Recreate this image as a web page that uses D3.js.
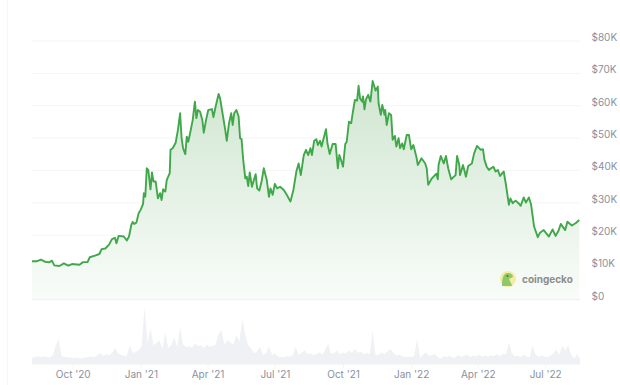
<!DOCTYPE html>
<html>
<head>
<meta charset="utf-8">
<script src="https://cdn.jsdelivr.net/npm/d3@7"></script>
<style>
  html, body { margin: 0; padding: 0; background: #fff; }
  text { font-family: Inter, "Noto Sans", sans-serif; }
</style>
</head>
<body>
<div class="canvas"></div>
<script>
const width = 620;
const height = 385;

// days since the first sample, price in thousands of USD
const priceDays = [0,6,12,18,23,27,30,37,43,49,54,64,69,75,78,85,91,94,99,104,108,112,114,117,124,128,131,134,136,138,141,144,147,150,151,153,155,157,160,162,164,167,170,173,175,177,180,182,186,187,190,194,197,200,202,204,207,209,211,213,217,220,222,224,227,230,232,235,238,243,245,248,252,254,258,261,263,266,269,271,273,276,279,281,283,285,288,290,292,294,297,302,304,307,310,313,317,320,322,325,328,331,335,340,344,349,353,357,360,363,367,370,373,376,378,381,384,386,389,391,397,399,402,406,410,413,415,417,420,423,425,428,431,433,436,439,441,443,446,447,449,451,454,457,460,462,464,467,468,471,473,476,477,479,482,485,487,490,492,495,497,500,502,506,509,512,515,519,521,526,531,533,535,540,546,548,549,552,556,559,562,566,572,574,577,578,582,586,589,594,597,601,606,609,611,614,617,620,623,626,629,632,635,637,640,644,646,649,653,657,660,664,667,671,674,678,683,686,691,698,703,707,711,714,720,723,729,734,739];
const prices = [11.75,11.75,12.26,11.6,11.4,11.95,10.5,10.3,11.1,10.4,10.9,10.7,11.5,11.5,13,13.5,14,15.5,15.7,16.9,18.6,19,17.3,19.6,19.4,18.2,19.4,22.9,23.9,23.3,23.7,26.6,27.8,29.5,32.8,31.7,40.5,40,34,39.2,36.4,36.4,31.2,32.8,30.7,34,33.3,36.9,39,46.2,46.7,48.4,52.3,57.5,49.8,46.7,44.9,50.3,48.7,50.8,55.4,61.1,56,58.5,58,55.4,51.5,55.4,58.5,58.8,56.3,59.6,63.5,62.1,56.5,52.3,49,54.4,57.5,53.9,57.5,58.5,56.5,49.8,49.5,43.6,37.4,37.9,35,39.2,34.8,38.7,34.3,33.6,36.4,40.5,36.9,31.7,34.3,32.3,35.7,34.3,34.8,33.8,32.3,30.2,33.8,39.5,42,38.4,44.6,46.2,44.6,46.7,44.6,49,49.5,47.7,49,47.2,52.6,48.2,44.9,48,48,40.5,44.6,43.3,41,48,48.7,54.9,54.4,57.5,61.6,61.4,66,62.1,61.1,62.7,58.7,61.8,63.2,61.1,67.5,66,64.5,65.75,60.6,57,60.1,57,58.5,53.9,57.5,57,49.3,50.5,47.2,49.8,46.7,48.2,46.4,50.8,50.8,46.4,47.7,44.1,41.5,43.6,42,40.5,35.4,37.4,38.8,37.1,41.5,44.3,42,44.3,40.5,37.1,38.4,44.3,41.5,38.4,41.5,37.9,41.2,42,45.1,47.4,46.2,46.4,43.1,41,40,40.5,41,39.5,40,38.1,39,39.5,35.4,29.2,31.2,29.7,30.5,29.7,28.9,31.5,29.9,31.5,29.2,22.5,19.2,20.6,21.4,19.4,21.6,19.6,21.2,23.3,21.4,24,22.8,23.5,24.5];

// volume in billions of USD, one reading every 4 days
const volumeStep = 4;
const volumes = [
  40,46,50,44,48,46,42,58,112,152,
  50,46,44,42,38,40,36,38,42,46,
  50,44,56,70,52,62,56,70,100,70,
  58,54,50,116,70,76,86,110,350,130,
  220,116,130,146,96,192,100,116,166,106,
  226,120,106,110,100,130,112,116,98,122,
  106,112,120,186,206,116,150,130,120,176,
  140,276,180,116,96,66,80,106,60,66,
  112,58,66,50,46,44,52,48,56,106,
  60,70,86,64,66,58,64,72,60,90,
  124,64,70,84,60,74,66,84,70,94,
  70,78,64,70,60,204,54,60,72,64,
  80,94,70,54,60,50,44,48,46,52,
  154,40,60,74,50,58,64,44,34,50,
  44,54,40,44,58,46,54,60,44,54,
  50,60,46,54,48,56,50,64,48,66,
  60,134,70,50,54,44,60,48,44,114,
  60,44,54,50,44,54,66,90,60,114,
  84,114,60,34,64,34
];

const yTicks = [0,10,20,30,40,50,60,70,80];
const xTickDates = ['2020-10-01','2021-01-01','2021-04-01','2021-07-01','2021-10-01','2022-01-01','2022-04-01','2022-07-01'];

const startDate = new Date(2020, 7, 7);
const toDate = (day) => d3.timeDay.offset(startDate, day);
const priceData = priceDays.map((day, i) => ({ date: toDate(day), value: prices[i] }));
const volumeData = volumes.map((v, i) => ({ date: toDate(i * volumeStep), value: v }));

const xScale = d3.scaleTime().domain([startDate, toDate(740)]).range([32, 580]);
const yScale = d3.scaleLinear().domain([0, 80]).range([299.3, 40.5]);
const volumeScale = d3.scaleLinear().domain([0, 350]).range([364.5, 306.5]);

const canvas = d3
  .select('.canvas')
  .append('svg')
  .attr('width', width)
  .attr('height', height)
  .style('display', 'block');

// faint page edge on the left
canvas.append('line')
  .attr('x1', 7.5).attr('x2', 7.5)
  .attr('y1', 0).attr('y2', height)
  .style('stroke', '#f7f7f9');

const gradient = canvas.append('defs').append('linearGradient')
  .attr('id', 'priceFill')
  .attr('gradientUnits', 'userSpaceOnUse')
  .attr('x1', 0).attr('x2', 0)
  .attr('y1', yScale(67.5)).attr('y2', yScale(0));
gradient.append('stop').attr('offset', '0%').attr('stop-color', '#cfe6d0');
gradient.append('stop').attr('offset', '100%').attr('stop-color', '#f9fcf9');

// Y axis, gridlines run back across the plot
const yAxis = d3.axisRight(yScale)
  .tickValues(yTicks)
  .tickSize(-548)
  .tickFormat((d) => (d === 0 ? '$0' : `$${d}K`));

const yAxisG = canvas.append('g')
  .attr('transform', 'translate(580,0)')
  .call(yAxis);
yAxisG.select('path.domain').style('display', 'none');
yAxisG.selectAll('line').style('stroke', '#f3f4f6');
yAxisG.selectAll('text')
  .attr('x', 11.5)
  .attr('dy', 0)
  .attr('y', 0)
  .style('font-size', '10px')
  .style('fill', '#8a919e');

// Price area and line
canvas.append('path')
  .datum(priceData)
  .attr('fill', 'url(#priceFill)')
  .attr('d', d3.area().x((d) => xScale(d.date)).y0(yScale(0)).y1((d) => yScale(d.value)));

canvas.append('path')
  .datum(priceData)
  .attr('fill', 'none')
  .attr('stroke', '#40a84a')
  .attr('stroke-width', 1.9)
  .attr('stroke-linejoin', 'round')
  .attr('d', d3.line().x((d) => xScale(d.date)).y((d) => yScale(d.value)));

// Redraw the zero line over the fill
canvas.append('line')
  .attr('x1', 32).attr('x2', 580)
  .attr('y1', yScale(0)).attr('y2', yScale(0))
  .style('stroke', '#eef0f3');

// Volume
canvas.append('path')
  .datum(volumeData)
  .attr('fill', '#f0f1f5')
  .attr('d', d3.area().x((d) => xScale(d.date)).y0(volumeScale(0)).y1((d) => volumeScale(d.value)));

// X axis
const xAxis = d3.axisBottom(xScale)
  .tickValues(xTickDates.map((d) => d3.timeParse('%Y-%m-%d')(d)))
  .tickSize(4)
  .tickFormat(d3.timeFormat("%b '%y"));

const xAxisG = canvas.append('g')
  .attr('transform', 'translate(0,364.5)')
  .call(xAxis);
xAxisG.select('path.domain').style('display', 'none');
xAxisG.selectAll('line').style('stroke', '#f3f4f6');
xAxisG.selectAll('text')
  .attr('y', 6.5)
  .attr('dy', '0.71em')
  .style('font-size', '10px')
  .style('fill', '#8a919e');

// Watermark
const logo = canvas.append('g').attr('transform', 'translate(508,279)');
logo.append('circle').attr('r', 8).attr('fill', '#f4ecA6');
logo.append('path')
  .attr('d', 'M-6,7 C-6,0 -5,-6 0,-6 C3,-6 5,-4 5,-2 L1,0 C2,3 4,5 4,7 Z')
  .attr('fill', '#8fc965');
logo.append('circle').attr('cx', -0.5).attr('cy', -3).attr('r', 0.9).attr('fill', '#4a6b3a');
canvas.append('text')
  .attr('x', 522)
  .attr('y', 283)
  .text('coingecko')
  .style('font-size', '10px')
  .style('font-weight', '700')
  .style('fill', '#8d8d8d');
</script>
</body>
</html>
